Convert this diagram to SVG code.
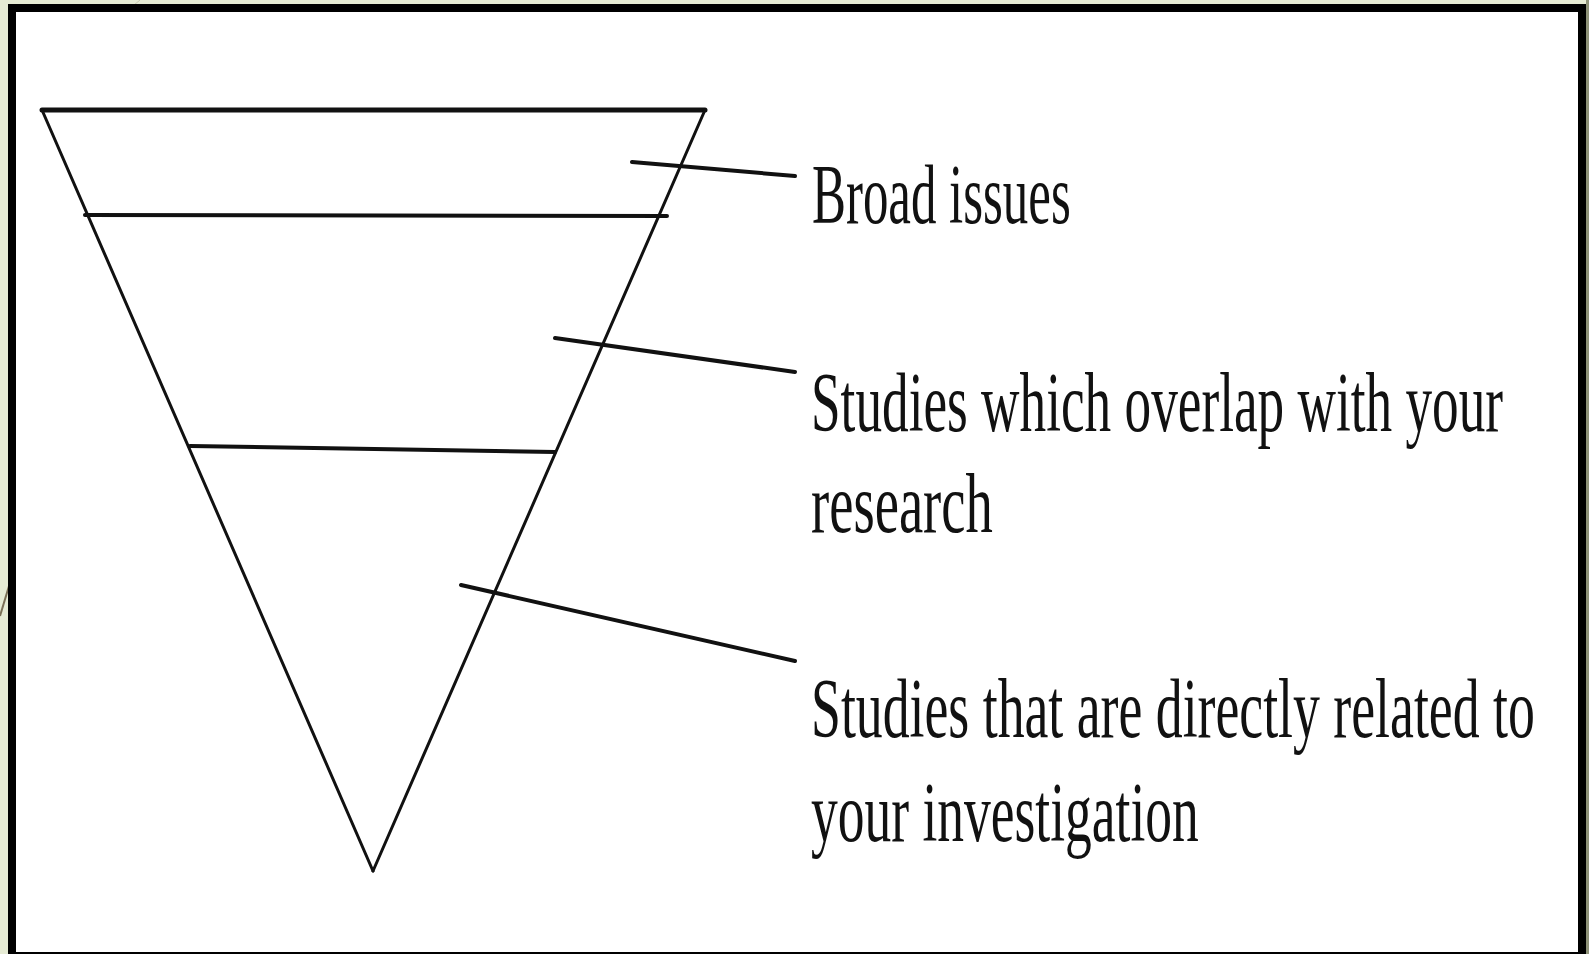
<svg xmlns="http://www.w3.org/2000/svg" width="1589" height="954" viewBox="0 0 1589 954">
<style>
.ln{stroke:#111;fill:none;stroke-linecap:round}
.lbl{font-family:"Liberation Serif","Times New Roman",serif;font-size:84px;fill:#111}
</style>
<rect x="0" y="0" width="1589" height="954" fill="#e6ebd4"/>
<rect x="1586" y="0" width="3" height="954" fill="#8f9379"/>
<line x1="0" y1="616" x2="9" y2="586" stroke="#7a6f55" stroke-width="2"/>
<line x1="134" y1="5" x2="140" y2="0" stroke="#c9c9b0" stroke-width="1"/>
<rect x="12" y="8" width="1570" height="948" fill="#ffffff" stroke="#000" stroke-width="8"/>
<g id="funnel">
<line class="ln" x1="42" y1="110" x2="705" y2="110" stroke-width="5"/>
<line class="ln" x1="42" y1="110" x2="373" y2="871" stroke-width="3"/>
<line class="ln" x1="705" y1="110" x2="373" y2="871" stroke-width="3"/>
<line class="ln" x1="85" y1="215" x2="667" y2="216" stroke-width="4"/>
<line class="ln" x1="190" y1="446" x2="555" y2="452" stroke-width="4"/>
</g>
<g id="connectors">
<line class="ln" x1="632" y1="162" x2="795" y2="176" stroke-width="4"/>
<line class="ln" x1="555" y1="338" x2="795" y2="372" stroke-width="4"/>
<line class="ln" x1="461" y1="585" x2="795" y2="661" stroke-width="4"/>
</g>
<g id="label-broad">
<text class="lbl" transform="translate(812,223) scale(0.606,1)">Broad issues</text>
</g>
<g id="label-overlap">
<text class="lbl" transform="translate(811,431) scale(0.634,1)">Studies which overlap with your</text>
<text class="lbl" transform="translate(811,532) scale(0.65,1)">research</text>
</g>
<g id="label-direct">
<text class="lbl" transform="translate(811,737) scale(0.64,1)">Studies that are directly related to</text>
<text class="lbl" transform="translate(811,841) scale(0.637,1)">your investigation</text>
</g>
</svg>
